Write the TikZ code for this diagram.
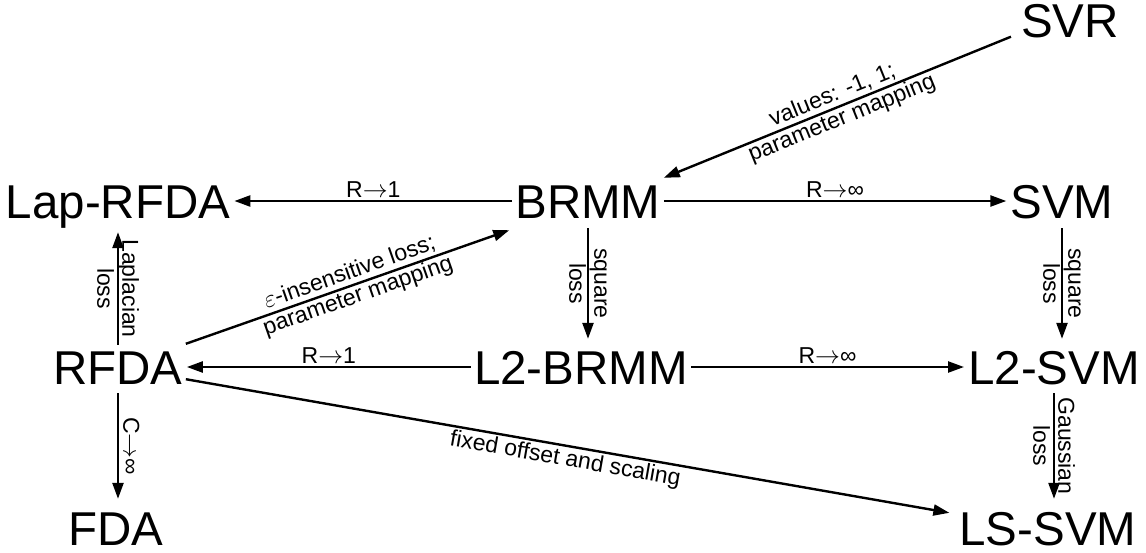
\documentclass[tikz,border=0pt]{standalone}
\usepackage{fontspec}
\setmainfont{Liberation Sans}
\usetikzlibrary{arrows.meta}
\begin{document}
\begin{tikzpicture}[x=1pt,y=-1pt,
  big/.style={font=\fontsize{47.5}{50}\selectfont, inner sep=0pt, text height=34pt, text depth=0pt},
  lab/.style={font=\fontsize{23}{25}\selectfont, inner sep=2pt, align=center},
  arr/.style={line width=2.4pt, -{Triangle[length=16pt,width=11pt]}}]
\useasboundingbox (0,0) rectangle (1146,552);
% nodes
\node[big] (SVR)    at (1070,20.5)  {SVR};
\node[big] (Lap)    at (118,201)    {Lap-RFDA};
\node[big] (BRMM)   at (588,201)    {BRMM};
\node[big] (SVM)    at (1062,201)   {SVM};
\node[big] (RFDA)   at (118,367)    {RFDA};
\node[big] (L2BRMM) at (581,367)    {L2-BRMM};
\node[big] (L2SVM)  at (1054,367)   {L2-SVM};
\node[big] (FDA)    at (116,528)    {FDA};
\node[big] (LSSVM)  at (1048,528)   {LS-SVM};
% horizontal
\draw[arr] ([xshift=-3pt]BRMM.west) -- ([xshift=4pt]Lap.east) node[midway,above,lab] {R$\rightarrow$1};
\draw[arr] ([xshift=3pt]BRMM.east) -- ([xshift=-4pt]SVM.west) node[midway,above,lab] {R$\rightarrow$∞};
\draw[arr] ([xshift=-3pt]L2BRMM.west) -- ([xshift=4pt]RFDA.east) node[midway,above,lab] {R$\rightarrow$1};
\draw[arr] ([xshift=3pt]L2BRMM.east) -- ([xshift=-4pt]L2SVM.west) node[midway,above,lab] {R$\rightarrow$∞};
% vertical
\draw[arr] ([yshift=-10pt]BRMM.south) -- ([yshift=11pt]BRMM.south |- L2BRMM.north) node[midway,rotate=-90,lab] {square\\loss};
\draw[arr] ([yshift=-10pt]SVM.south) -- ([yshift=11pt]SVM.south |- L2SVM.north) node[midway,rotate=-90,lab] {square\\loss};
\draw[arr] ([yshift=5pt]RFDA.north) -- ([yshift=-14pt]RFDA.north |- Lap.south) node[midway,rotate=-90,lab] {Laplacian\\loss};
\draw[arr] ([yshift=-9pt]RFDA.south) -- ([yshift=12pt]RFDA.south |- FDA.north) node[midway,rotate=-90,anchor=south,lab,inner sep=4pt] {C$\rightarrow$∞};
\draw[arr] ([yshift=-9pt]L2SVM.south) -- ([yshift=12pt]L2SVM.south |- LSSVM.north) node[midway,rotate=-90,lab] {Gaussian\\loss};
% diagonal
\draw[arr] ([shift={(-10,-1)}]SVR.south west) -- ([shift={(3,-6)}]BRMM.north east) node[midway,sloped,lab] {values: -1, 1;\\parameter mapping};
\draw[arr] ([shift={(3,-6)}]RFDA.north east) -- ([shift={(-6,12)}]BRMM.south west) node[pos=0.52,sloped,lab] {$\varepsilon$-insensitive loss;\\parameter mapping};
\draw[arr] ([shift={(3,-5)}]RFDA.south east) -- ([shift={(-10,2)}]LSSVM.north west) node[midway,sloped,below,lab] {fixed offset and scaling};
\end{tikzpicture}
\end{document}
